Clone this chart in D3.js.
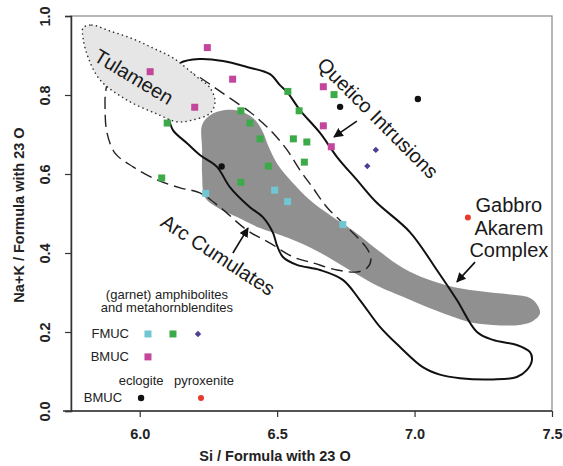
<!DOCTYPE html>
<html>
<head>
<meta charset="utf-8">
<script src="https://cdn.jsdelivr.net/npm/d3@7"></script>
<style>
  body { margin: 0; background: #fff; }
  svg { display: block; font-family: Arial, "Liberation Sans", sans-serif; }
</style>
</head>
<body>
<script>
// ---- data (Si, Na+K per 23 O) ----
var xTicks = [6.0, 6.5, 7.0, 7.5];
var yTicks = [0.0, 0.2, 0.4, 0.6, 0.8, 1.0];

var fmucCyan = [[6.240,0.551],[6.491,0.559],[6.538,0.530],[6.739,0.472]];
var fmucGreen = [[6.100,0.729],[6.368,0.760],[6.401,0.729],[6.438,0.689],[6.539,0.809],
                 [6.707,0.801],[6.580,0.760],[6.559,0.689],[6.608,0.681],[6.599,0.630],
                 [6.468,0.620],[6.368,0.579],[6.080,0.590]];
var fmucDiamond = [[6.859,0.661],[6.828,0.620]];
var bmucMagenta = [[6.246,0.920],[6.038,0.859],[6.338,0.840],[6.200,0.769],
                   [6.668,0.821],[6.668,0.722],[6.697,0.669]];
var eclogite = [[6.729,0.770],[7.012,0.790],[6.298,0.619]];
var pyroxenite = [[7.194,0.490]];

// field outlines
var tulameen = [[5.794,0.970],[5.826,0.977],[5.892,0.962],[5.976,0.942],[6.048,0.919],
                [6.121,0.894],[6.208,0.846],[6.256,0.818],[6.274,0.782],[6.256,0.754],
                [6.194,0.737],[6.136,0.732],[6.063,0.752],[5.954,0.787],[5.856,0.838],
                [5.812,0.896],[5.794,0.944]];
var quetico = [[6.092,0.838],[6.147,0.881],[6.219,0.891],[6.303,0.886],[6.390,0.871],
               [6.474,0.853],[6.510,0.825],[6.536,0.808],[6.583,0.762],[6.656,0.704],
               [6.718,0.643],[6.790,0.585],[6.860,0.529],[6.983,0.453],[7.081,0.357],
               [7.154,0.281],[7.227,0.200],[7.285,0.180],[7.372,0.167],[7.420,0.149],
               [7.427,0.129],[7.409,0.104],[7.372,0.086],[7.285,0.080],[7.165,0.083],
               [7.092,0.092],[7.030,0.111],[6.947,0.162],[6.874,0.213],[6.801,0.281],
               [6.739,0.332],[6.656,0.357],[6.572,0.370],[6.521,0.390],[6.499,0.420],
               [6.485,0.451],[6.448,0.491],[6.401,0.516],[6.328,0.567],[6.281,0.618],
               [6.219,0.648],[6.172,0.678],[6.121,0.711],[6.103,0.749],[6.092,0.787]];
var arcCumulates = [[5.892,0.843],[5.965,0.868],[6.092,0.873],[6.201,0.851],[6.274,0.818],
                    [6.328,0.792],[6.401,0.757],[6.448,0.729],[6.485,0.704],[6.536,0.661],
                    [6.583,0.610],[6.630,0.565],[6.681,0.516],[6.754,0.466],[6.801,0.433],
                    [6.830,0.408],[6.841,0.382],[6.827,0.362],[6.790,0.352],[6.718,0.357],
                    [6.630,0.375],[6.558,0.390],[6.474,0.425],[6.390,0.458],[6.292,0.516],
                    [6.219,0.552],[6.147,0.565],[6.063,0.585],[5.976,0.618],[5.910,0.653],
                    [5.881,0.704],[5.874,0.762],[5.877,0.813]];
var gabbroBand = [[6.227,0.724],[6.256,0.749],[6.310,0.762],[6.365,0.759],[6.412,0.742],
                  [6.445,0.711],[6.470,0.668],[6.503,0.623],[6.554,0.580],[6.619,0.534],
                  [6.692,0.496],[6.783,0.453],[6.874,0.403],[6.958,0.362],[7.045,0.334],
                  [7.140,0.314],[7.263,0.301],[7.358,0.294],[7.420,0.286],[7.449,0.266],
                  [7.456,0.246],[7.431,0.228],[7.383,0.218],[7.285,0.218],[7.201,0.225],
                  [7.129,0.241],[7.045,0.263],[6.958,0.289],[6.874,0.314],[6.783,0.349],
                  [6.692,0.387],[6.601,0.420],[6.521,0.443],[6.438,0.463],[6.354,0.491],
                  [6.281,0.516],[6.237,0.542],[6.227,0.597],[6.227,0.661]];

// annotation arrows [from, to]
var arrows = [[[6.790,0.734],[6.707,0.694]],
              [[6.339,0.400],[6.394,0.463]],
              [[7.220,0.377],[7.154,0.327]]];

function main(){

    var W = 563, H = 466;
    var svg = d3.select('body').append('svg')
        .attr('width', W)
        .attr('height', H);

    var x = d3.scaleLinear().domain([5.75, 7.5]).range([71, 552]);
    var y = d3.scaleLinear().domain([0, 1]).range([411, 16]);

    var line = d3.line()
        .x(function(d){ return x(d[0]); })
        .y(function(d){ return y(d[1]); })
        .curve(d3.curveCatmullRomClosed.alpha(0.5));

    // frame
    svg.append('rect')
        .attr('x', 71).attr('y', 16)
        .attr('width', 552 - 71).attr('height', 411 - 16)
        .attr('fill', 'none').attr('stroke', '#888').attr('stroke-width', 1.2);

    // grey band (Gabbro Akarem)
    svg.append('path').datum(gabbroBand)
        .attr('d', line)
        .attr('fill', '#909090');

    // Quetico Intrusions
    svg.append('path').datum(quetico)
        .attr('d', line)
        .attr('fill', 'none').attr('stroke', '#111').attr('stroke-width', 2);

    // Arc Cumulates
    svg.append('path').datum(arcCumulates)
        .attr('d', line)
        .attr('fill', 'none').attr('stroke', '#222').attr('stroke-width', 1.4)
        .attr('stroke-dasharray', '12,6');

    // Tulameen
    svg.append('path').datum(tulameen)
        .attr('d', line)
        .attr('fill', '#e6e6e6').attr('stroke', '#333').attr('stroke-width', 1.6)
        .attr('stroke-dasharray', '0.1,4.5').attr('stroke-linecap', 'round');

    // axes
    var xAxis = d3.axisBottom(x).tickValues(xTicks).tickFormat(d3.format('.1f'))
        .tickSize(6).tickPadding(12);
    var gx = svg.append('g').attr('transform', 'translate(0,411)').call(xAxis);
    gx.select('.domain').attr('stroke', '#333').attr('stroke-width', 1.5).attr('d', 'M63,0H552');
    gx.selectAll('.tick line').attr('stroke', '#333').attr('stroke-width', 1.2);
    gx.selectAll('.tick text').attr('font-size', 14.5).attr('font-weight', 'bold')
        .attr('fill', '#222').attr('font-family', 'Arial, Liberation Sans, sans-serif');

    var yAxis = d3.axisLeft(y).tickValues(yTicks).tickFormat(d3.format('.1f'))
        .tickSize(6).tickPadding(0);
    var gy = svg.append('g').attr('transform', 'translate(71,0)').call(yAxis);
    gy.select('.domain').attr('stroke', '#333').attr('stroke-width', 1.5);
    gy.selectAll('.tick line').attr('stroke', '#333').attr('stroke-width', 1.2);
    gy.selectAll('.tick text')
        .attr('font-size', 14.5).attr('font-weight', 'bold').attr('fill', '#222')
        .attr('font-family', 'Arial, Liberation Sans, sans-serif')
        .attr('x', null).attr('dy', null)
        .attr('text-anchor', 'middle')
        .attr('transform', 'translate(-26,0) rotate(-90)')
        .attr('dominant-baseline', 'central');

    svg.append('text')
        .attr('x', 275).attr('y', 461)
        .attr('text-anchor', 'middle')
        .attr('font-size', 14.5).attr('font-weight', 'bold').attr('fill', '#222')
        .text('Si / Formula with 23 O');

    svg.append('text')
        .attr('transform', 'translate(19,215) rotate(-90)')
        .attr('text-anchor', 'middle').attr('dominant-baseline', 'central')
        .attr('font-size', 14.5).attr('font-weight', 'bold').attr('fill', '#222')
        .text('Na+K / Formula with 23 O');

    // arrows
    svg.append('defs').append('marker')
        .attr('id', 'head').attr('viewBox', '0 0 10 10')
        .attr('refX', 9).attr('refY', 5)
        .attr('markerWidth', 6).attr('markerHeight', 6)
        .attr('markerUnits', 'strokeWidth')
        .attr('orient', 'auto')
        .append('path').attr('d', 'M0,0L10,5L0,10Z').attr('fill', '#111');

    svg.selectAll('.arrow').data(arrows).enter().append('line')
        .attr('class', 'arrow')
        .attr('x1', function(d){ return x(d[0][0]); })
        .attr('y1', function(d){ return y(d[0][1]); })
        .attr('x2', function(d){ return x(d[1][0]); })
        .attr('y2', function(d){ return y(d[1][1]); })
        .attr('stroke', '#111').attr('stroke-width', 1.6)
        .attr('marker-end', 'url(#head)');

    // points
    function squares(data, color, size){
        svg.append('g').selectAll('rect').data(data).enter().append('rect')
            .attr('x', function(d){ return x(d[0]) - size / 2; })
            .attr('y', function(d){ return y(d[1]) - size / 2; })
            .attr('width', size).attr('height', size)
            .attr('fill', color);
    }
    function dots(data, color, r){
        svg.append('g').selectAll('circle').data(data).enter().append('circle')
            .attr('cx', function(d){ return x(d[0]); })
            .attr('cy', function(d){ return y(d[1]); })
            .attr('r', r).attr('fill', color);
    }
    function diamonds(data, color, size){
        svg.append('g').selectAll('path').data(data).enter().append('path')
            .attr('transform', function(d){ return 'translate(' + x(d[0]) + ',' + y(d[1]) + ')'; })
            .attr('d', 'M0,' + (-size) + 'L' + size + ',0L0,' + size + 'L' + (-size) + ',0Z')
            .attr('fill', color);
    }

    squares(fmucGreen, '#3daa49', 7);
    squares(fmucCyan, '#70c7d3', 7);
    squares(bmucMagenta, '#c4469c', 7);
    diamonds(fmucDiamond, '#4a3f95', 3.2);
    dots(eclogite, '#111', 3.2);
    dots(pyroxenite, '#e8392d', 3);

    // field labels
    function label(txt, px, py, angle, size){
        svg.append('text')
            .attr('transform', 'translate(' + x(px) + ',' + y(py) + ') rotate(' + angle + ')')
            .attr('text-anchor', 'middle').attr('dominant-baseline', 'central')
            .attr('font-size', size).attr('fill', '#1a1a1a')
            .text(txt);
    }
    label('Tulameen', 5.979, 0.846, 31, 20);
    label('Quetico Intrusions', 6.867, 0.742, 45, 20);
    label('Arc Cumulates', 6.285, 0.395, 33, 20);
    label('Gabbro', 7.343, 0.522, 0, 20);
    label('Akarem', 7.343, 0.463, 0, 20);
    label('Complex', 7.343, 0.408, 0, 20);

    // legend
    function ltext(txt, px, py, anchor){
        svg.append('text')
            .attr('x', x(px)).attr('y', y(py))
            .attr('text-anchor', anchor).attr('dominant-baseline', 'central')
            .attr('font-size', 13).attr('fill', '#222')
            .text(txt);
    }
    ltext('(garnet) amphibolites', 6.099, 0.296, 'middle');
    ltext('and metahornblendites', 6.099, 0.261, 'middle');
    ltext('FMUC', 5.961, 0.195, 'end');
    ltext('BMUC', 5.961, 0.137, 'end');
    ltext('eclogite', 6.005, 0.076, 'middle');
    ltext('pyroxenite', 6.234, 0.076, 'middle');
    ltext('BMUC', 5.936, 0.033, 'end');

    squares([[6.030, 0.195]], '#70c7d3', 7);
    squares([[6.121, 0.195]], '#3daa49', 7);
    diamonds([[6.212, 0.195]], '#4a3f95', 3.2);
    squares([[6.030, 0.137]], '#c4469c', 7);
    dots([[6.005, 0.033]], '#111', 3.2);
    dots([[6.223, 0.033]], '#e8392d', 3);
}
main();
</script>
</body>
</html>
